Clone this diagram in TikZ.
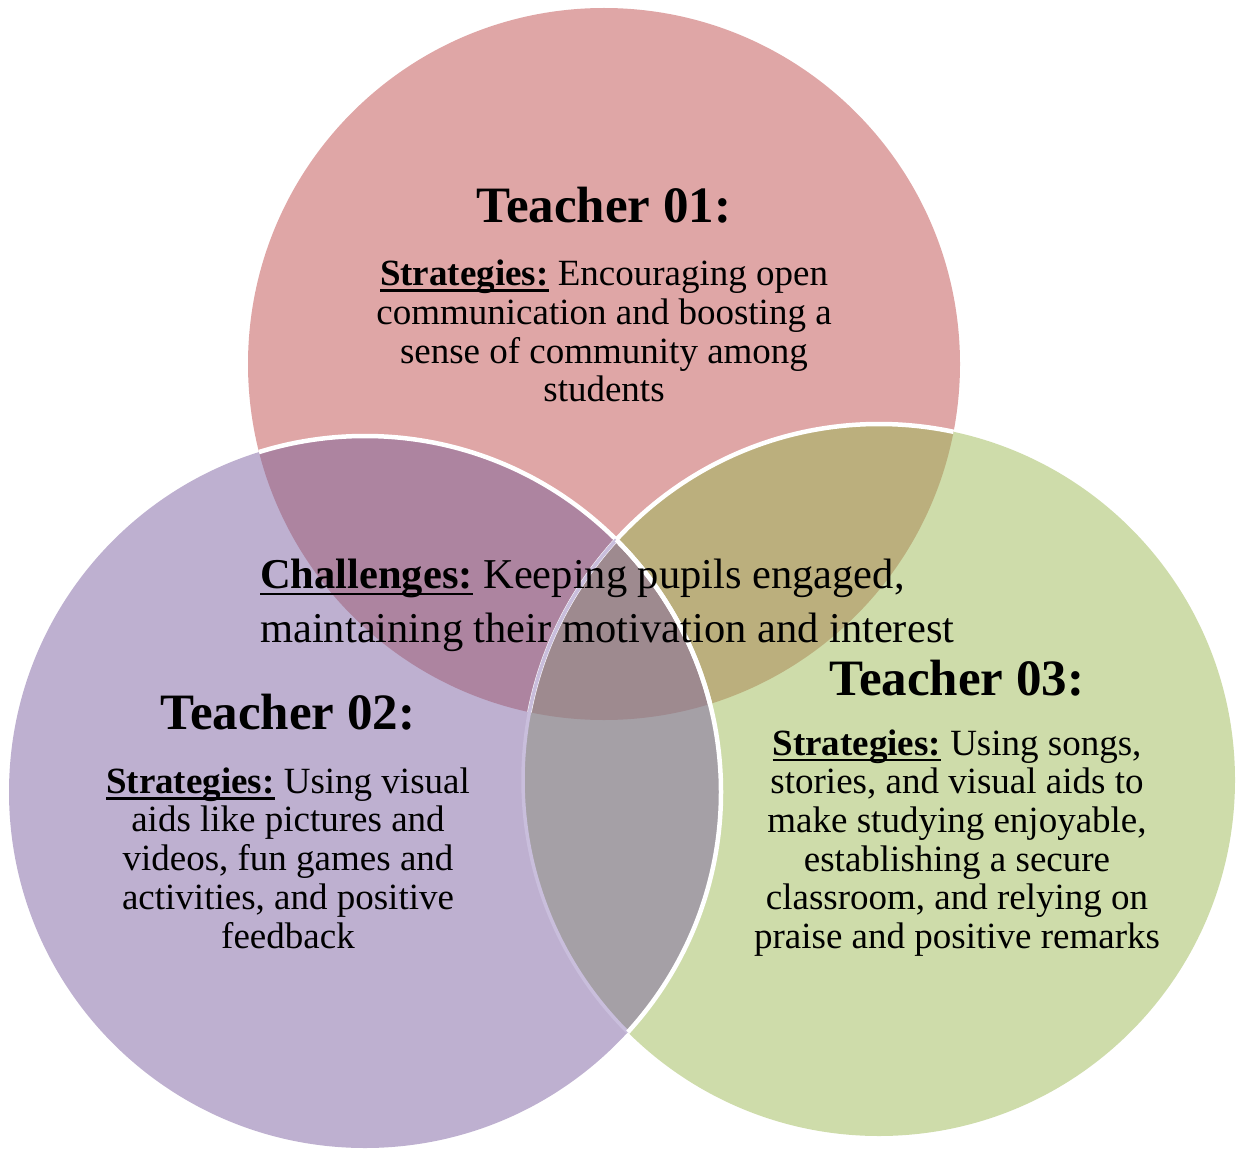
\documentclass[tikz,border=0pt]{standalone}
\usepackage{fontspec}
\setmainfont{Liberation Serif}
\definecolor{cR}{HTML}{DFA6A6}
\definecolor{cP}{HTML}{BEB0D0}
\definecolor{cG}{HTML}{CEDCAA}
\definecolor{cRP}{HTML}{AD84A0}
\definecolor{cRG}{HTML}{BBAF7D}
\definecolor{cPG}{HTML}{A5A0A6}
\definecolor{cRPG}{HTML}{9E8A8F}
\definecolor{cLav}{HTML}{C9BEDC}
\newsavebox{\myulbox}
\newcommand{\ulbold}[1]{\sbox{\myulbox}{\bfseries #1}\leavevmode\rlap{\rule[-0.17em]{\wd\myulbox}{0.065em}}\usebox{\myulbox}}
\tikzset{
  wline/.style={draw=white, line width=4.5pt},
  lavline/.style={draw=cLav, line width=3.5pt},
  headtxt/.style={inner sep=0pt, font=\fontsize{51}{55}\selectfont\bfseries, text=black},
  bodytxt/.style={inner sep=0pt, align=center, font=\fontsize{37}{38.7}\selectfont, text=black},
  chaltxt/.style={inner sep=0pt, align=left, font=\fontsize{42.5}{54}\selectfont, text=black}
}
\begin{document}
\begin{tikzpicture}[x=1pt,y=-1pt]
\useasboundingbox (0,0) rectangle (1236,1150);
\coordinate (cA) at (604,364);
\coordinate (cB) at (365,792);
\coordinate (cC) at (879,780);
% base fills
\fill[cR] (cA) circle[radius=356pt];
\fill[cP] (cB) circle[radius=356pt];
\fill[cG] (cC) circle[radius=356pt];
% pair overlaps
\begin{scope}
  \clip (cA) circle[radius=356pt];
  \fill[cRP] (cB) circle[radius=356pt];
  \fill[cRG] (cC) circle[radius=356pt];
\end{scope}
\begin{scope}
  \clip (cB) circle[radius=356pt];
  \fill[cPG] (cC) circle[radius=356pt];
\end{scope}
% triple overlap
\begin{scope}
  \clip (cA) circle[radius=356pt];
  \clip (cB) circle[radius=356pt];
  \fill[cRPG] (cC) circle[radius=356pt];
\end{scope}
% outlines
\begin{scope}
  \clip (cA) circle[radius=356pt];
  \draw[wline] (cC) circle[radius=356pt];
  \draw[wline] (cB) circle[radius=356pt];
\end{scope}
\begin{scope}
  \clip (cB) circle[radius=356pt];
  \draw[lavline] (cC) circle[radius=356pt];
\end{scope}
\begin{scope}
  \clip (cC) circle[radius=356pt];
  \draw[wline] (cB) circle[radius=356pt];
\end{scope}
% texts
\node[headtxt] (t1h) at (604,205) {Teacher 01:};
\node[bodytxt] (t1b) at (604,331) {\ulbold{Strategies:} Encouraging open\\communication and boosting a\\sense of community among\\students};
\node[chaltxt, anchor=west] (chal) at (260,605) {\ulbold{Challenges:} Keeping pupils engaged,\\maintaining their motivation and interest};
\node[headtxt] (t2h) at (288,712) {Teacher 02:};
\node[bodytxt] (t2b) at (288,858) {\ulbold{Strategies:} Using visual\\aids like pictures and\\videos, fun games and\\activities, and positive\\feedback};
\node[headtxt] (t3h) at (957,678) {Teacher 03:};
\node[bodytxt] (t3b) at (957,843) {\ulbold{Strategies:} Using songs,\\stories, and visual aids to\\make studying enjoyable,\\establishing a secure\\classroom, and relying on\\praise and positive remarks};
\end{tikzpicture}
\end{document}
